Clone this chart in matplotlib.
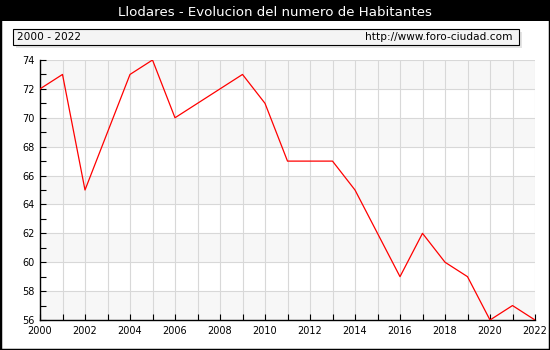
import matplotlib
matplotlib.use("Agg")
import matplotlib.pyplot as plt
from matplotlib.patches import Rectangle
from matplotlib.ticker import MultipleLocator

years = [2000, 2001, 2002, 2003, 2004, 2005, 2006, 2007, 2008, 2009, 2010, 2011,
         2012, 2013, 2014, 2015, 2016, 2017, 2018, 2019, 2020, 2021, 2022]
habitantes = [72, 73, 65, 69, 73, 74, 70, 71, 72, 73, 71, 67,
              67, 67, 65, 62, 59, 62, 60, 59, 56, 57, 56]
title = "Llodares - Evolucion del numero de Habitantes"
subtitle_left = "2000 - 2022"
subtitle_right = "http://www.foro-ciudad.com"

W, H = 550, 350
fig = plt.figure(figsize=(W / 100, H / 100), dpi=100)
fig.patch.set_facecolor("white")

def fx(px):
    return px / W

def fy(py):
    return 1 - py / H

# black frame and title band
fig.patches.append(Rectangle((0, 0), 1, 1, transform=fig.transFigure,
                             facecolor="none", edgecolor="black", linewidth=2.5, zorder=0))
fig.patches.append(Rectangle((0, fy(21)), 1, 21 / H, transform=fig.transFigure,
                             facecolor="black", edgecolor="none", zorder=0))
fig.text(0.5, fy(12), title, color="white", ha="center", va="center", fontsize=9.6,
         family="DejaVu Sans")

# subtitle box with shadow
fig.patches.append(Rectangle((fx(16), fy(48)), fx(506), 16 / H, transform=fig.transFigure,
                             facecolor="#e4e4e4", edgecolor="none", zorder=1))
fig.patches.append(Rectangle((fx(13), fy(45)), fx(506), 16 / H, transform=fig.transFigure,
                             facecolor="#f4f4f4", edgecolor="black", linewidth=0.8, zorder=2))
fig.text(fx(17), fy(37.5), subtitle_left, ha="left", va="center", fontsize=7.6, zorder=3)
fig.text(fx(513), fy(37.5), subtitle_right, ha="right", va="center", fontsize=7.6, zorder=3)

ax = fig.add_axes([fx(40), fy(320), fx(535 - 40), (320 - 60) / H])
ax.set_facecolor("white")
ymin, ymax = 56, 74
for y0 in range(56, 74, 4):
    ax.axhspan(y0, y0 + 2, facecolor="#f7f7f7", edgecolor="none", zorder=0)
ax.axhspan(72, 74, facecolor="#f7f7f7", edgecolor="none", zorder=0)
ax.set_xlim(years[0], years[-1])
ax.set_ylim(ymin, ymax)
ax.xaxis.set_major_locator(MultipleLocator(2))
ax.xaxis.set_minor_locator(MultipleLocator(1))
ax.yaxis.set_major_locator(MultipleLocator(2))
ax.yaxis.set_minor_locator(MultipleLocator(1))
for yr in years:
    ax.axvline(yr, color="#d8d8d8", linewidth=0.8, zorder=1)
for v in range(56, 75, 2):
    ax.axhline(v, color="#d8d8d8", linewidth=0.8, zorder=1)

ax.plot(years, habitantes, color="red", linewidth=0.9, zorder=3)

for s in ["top", "right"]:
    ax.spines[s].set_visible(False)
for s in ["left", "bottom"]:
    ax.spines[s].set_color("black")
    ax.spines[s].set_linewidth(1)
ax.tick_params(axis="both", which="both", direction="in", color="black", labelsize=7)
ax.tick_params(axis="both", which="major", length=4, width=0.8)
ax.tick_params(axis="both", which="minor", length=4, width=0.8)
ax.tick_params(axis="x", pad=4)
ax.tick_params(axis="y", pad=4)

fig.savefig("out.png", dpi=100, facecolor="white")
